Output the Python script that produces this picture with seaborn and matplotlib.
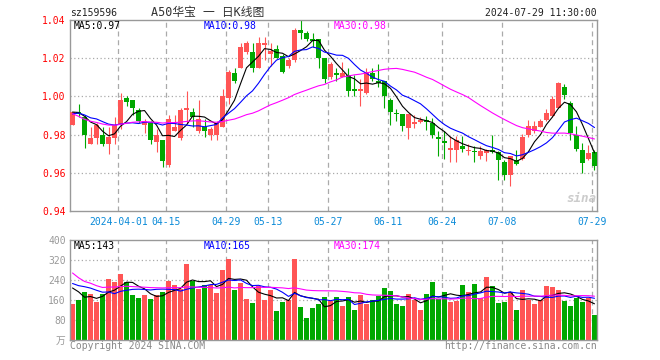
import numpy as np
import pandas as pd
import matplotlib
matplotlib.use("Agg")
import matplotlib.pyplot as plt
import seaborn as sns

# daily OHLC (2024-03-20 .. 2024-07-29, 88 sessions)
opens = [0.985, 0.992, 0.989, 0.975, 0.978, 0.980, 0.975, 0.978, 0.985, 0.999,
         0.998, 0.993, 0.985, 0.986, 0.976, 0.977, 0.964, 0.982, 0.978, 0.993,
         0.992, 0.982, 0.984, 0.980, 0.980, 0.984, 0.999, 1.012, 1.015, 1.023,
         1.023, 1.015, 1.027, 1.022, 1.025, 1.021, 1.016, 1.019, 1.035, 1.033,
         1.030, 1.030, 1.020, 1.010, 1.012, 1.010, 1.011, 1.004, 1.003, 1.002,
         1.012, 1.008, 1.008, 0.998, 0.9912, 0.991, 0.9833, 0.9856, 0.9866, 0.9872,
         0.9862, 0.979, 0.9765, 0.9721, 0.9721, 0.9742, 0.9714, 0.9714, 0.9689, 0.9704,
         0.9721, 0.9707, 0.9659, 0.9589, 0.9668, 0.9672, 0.9797, 0.9818, 0.9842, 0.9875,
         0.9896, 0.994, 1.0051, 0.9967, 0.980, 0.9721, 0.9672, 0.971]
highs = [0.992, 0.996, 0.990, 0.984, 0.986, 0.984, 0.984, 0.989, 1.002, 1.000,
         0.998, 0.994, 0.988, 0.987, 0.983, 0.977, 0.990, 0.990, 0.994, 1.003,
         0.994, 0.998, 0.988, 0.984, 0.987, 1.004, 1.014, 1.015, 1.028, 1.029,
         1.028, 1.031, 1.031, 1.028, 1.027, 1.022, 1.020, 1.036, 1.040, 1.034,
         1.033, 1.030, 1.020, 1.018, 1.015, 1.018, 1.015, 1.011, 1.009, 1.015,
         1.015, 1.017, 1.008, 0.999, 0.9932, 0.991, 0.991, 0.9905, 0.989, 0.9896,
         0.9888, 0.9817, 0.9817, 0.9791, 0.9793, 0.9795, 0.9753, 0.9738, 0.9738, 0.9725,
         0.980, 0.9712, 0.9668, 0.9689, 0.9721, 0.9805, 0.9879, 0.987, 0.988, 0.9932,
         1.0002, 1.0075, 1.0063, 0.9975, 0.9844, 0.9758, 0.9747, 0.9721]
lows = [0.985, 0.989, 0.973, 0.975, 0.975, 0.974, 0.970, 0.975, 0.983, 0.995,
        0.990, 0.986, 0.981, 0.975, 0.971, 0.963, 0.963, 0.982, 0.977, 0.986,
        0.984, 0.981, 0.979, 0.977, 0.977, 0.984, 0.996, 1.007, 1.015, 1.022,
        1.013, 1.015, 1.019, 1.016, 1.020, 1.012, 1.015, 1.018, 1.030, 1.029,
        1.026, 1.015, 1.007, 1.009, 1.008, 1.010, 1.000, 1.000, 0.995, 1.001,
        1.008, 1.005, 0.994, 0.985, 0.987, 0.9817, 0.9775, 0.9832, 0.9863, 0.9826,
        0.9783, 0.9686, 0.9674, 0.9654, 0.9654, 0.9711, 0.9695, 0.9655, 0.9674, 0.9663,
        0.9704, 0.9563, 0.9563, 0.9532, 0.9642, 0.9668, 0.979, 0.981, 0.984, 0.987,
        0.989, 0.994, 0.9985, 0.9774, 0.9715, 0.9598, 0.9668, 0.9616]
closes = [0.992, 0.991, 0.980, 0.978, 0.985, 0.975, 0.979, 0.985, 0.998, 0.997,
          0.994, 0.987, 0.987, 0.977, 0.980, 0.966, 0.988, 0.984, 0.993, 0.994,
          0.989, 0.988, 0.982, 0.983, 0.986, 1.000, 1.013, 1.008, 1.026, 1.028,
          1.015, 1.028, 1.028, 1.024, 1.020, 1.013, 1.019, 1.035, 1.033, 1.030,
          1.029, 1.020, 1.009, 1.017, 1.011, 1.012, 1.003, 1.003, 1.004, 1.013,
          1.009, 1.007, 1.000, 0.992, 0.9908, 0.9844, 0.9908, 0.9866, 0.9876, 0.9868,
          0.980, 0.9777, 0.9756, 0.973, 0.9774, 0.9724, 0.9719, 0.9710, 0.9712, 0.9717,
          0.9710, 0.9668, 0.9589, 0.9686, 0.9647, 0.9788, 0.9844, 0.9847, 0.9873, 0.9914,
          0.9984, 1.0072, 1.0005, 0.9809, 0.9725, 0.9651, 0.9704, 0.9633]
# volume in 万
volumes = [144, 160, 192, 184, 153, 184, 244, 232, 264, 232,
           180, 168, 180, 164, 180, 192, 236, 220, 204, 304,
           236, 204, 220, 220, 188, 280, 324, 200, 228, 164,
           148, 216, 160, 200, 116, 152, 160, 324, 132, 88,
           128, 144, 172, 156, 172, 136, 172, 120, 180, 144,
           160, 176, 208, 196, 144, 136, 184, 160, 120, 184,
           232, 164, 192, 152, 156, 220, 192, 224, 168, 252,
           216, 148, 152, 192, 120, 200, 160, 144, 160, 216,
           212, 200, 156, 136, 168, 152, 168, 100]
# sessions before the window, only feeding the moving averages
pre_close = [1.030, 1.028, 1.008, 1.004, 1.000, 0.995, 0.988, 0.984, 0.980, 0.978,
             0.981, 0.983, 0.985, 0.982, 0.979, 0.980, 0.984, 0.986, 0.983, 0.981,
             0.986, 0.990, 0.993, 0.991, 0.989, 0.992, 0.990, 0.993, 0.992]
pre_vol = [730, 640, 395, 450, 395, 205, 215, 210, 200, 220,
           205, 215, 210, 200, 210, 215, 205, 212, 210, 240,
           245, 235, 240, 240, 260, 236, 300, 170, 190]

tick_idx = [8, 16, 26, 33, 43, 53, 62, 72, 87]
tick_labels = ["2024-04-01", "04-15", "04-29", "05-13", "05-27",
               "06-11", "06-24", "07-08", "07-29"]
price_ticks = [0.94, 0.96, 0.98, 1.00, 1.02, 1.04]
vol_ticks = [0, 80, 160, 240, 320, 400]
price_ma_text = ["MA5:0.97", "MA10:0.98", "MA30:0.98"]
vol_ma_text = ["MA5:143", "MA10:165", "MA30:174"]

RED, GREEN = "#ff5555", "#00a800"
GRID = "#aaaaaa"
MA_COLORS = ["black", "blue", "#ff00ff"]

sns.set_style("white")
plt.rcParams["font.family"] = ["DejaVu Sans Mono", "Noto Sans CJK SC"]

n = len(closes)
df = pd.DataFrame({"open": opens, "high": highs, "low": lows,
                   "close": closes, "vol": volumes})
df["idx"] = np.arange(n)
df["up"] = df["close"] >= df["open"]
colors = np.where(df["up"], RED, GREEN)

npre = len(pre_close)
full_c = pd.Series(pre_close + closes)
full_v = pd.Series(pre_vol + volumes)
for w in (5, 10, 30):
    df[f"ma{w}"] = full_c.rolling(w).mean().iloc[npre:].values
    df[f"vma{w}"] = full_v.rolling(w).mean().iloc[npre:].values

W, H = 660, 360
fig = plt.figure(figsize=(6.6, 3.6), dpi=100)
ax1 = fig.add_axes([70 / W, 149 / H, 527 / W, 191 / H])
ax2 = fig.add_axes([70 / W, 20 / H, 527 / W, 100 / H])
xlim = (-0.42, 87.42)
grid_x = [i - 0.35 for i in tick_idx]

# price panel
for y in price_ticks[1:-1]:
    ax1.axhline(y, color=GRID, lw=0.9, ls=(0, (1, 2)), zorder=0)
for gx in grid_x:
    ax1.axvline(gx, color=GRID, lw=0.9, ls=(0, (4, 3)), zorder=0)
ax1.vlines(df["idx"], df["low"], df["high"], colors=colors, lw=0.8, zorder=2)
body = (df["close"] - df["open"]).abs().clip(lower=0.0006)
ax1.bar(df["idx"], body, bottom=df[["open", "close"]].min(axis=1),
        width=0.8, color=colors, lw=0, zorder=3)
for w, c in zip((5, 10, 30), MA_COLORS):
    sns.lineplot(x=df["idx"], y=df[f"ma{w}"], ax=ax1, color=c, lw=0.8, zorder=4)
ax1.set_xlim(*xlim)
ax1.set_ylim(0.94, 1.04)
ax1.set_yticks(price_ticks)
ax1.set_yticklabels([f"{v:.2f}" for v in price_ticks])
ax1.set_xticks(grid_x)
ax1.set_xticklabels(tick_labels)
ax1.tick_params(axis="y", length=0, pad=3, labelsize=7, labelcolor="#ff0000")
ax1.tick_params(axis="x", length=0, pad=4, labelsize=7, labelcolor="#0a8ad8")
ax1.set_xlabel("")
ax1.set_ylabel("")

# volume panel
for y in vol_ticks[1:-1]:
    ax2.axhline(y, color=GRID, lw=0.9, ls=(0, (1, 2)), zorder=0)
for gx in grid_x:
    ax2.axvline(gx, color=GRID, lw=0.9, ls=(0, (4, 3)), zorder=0)
ax2.bar(df["idx"], df["vol"], width=0.82, color=colors, lw=0, zorder=2)
for w, c in zip((5, 10, 30), MA_COLORS):
    sns.lineplot(x=df["idx"], y=df[f"vma{w}"], ax=ax2, color=c, lw=0.8, zorder=4)
ax2.set_xlim(*xlim)
ax2.set_ylim(0, 400)
ax2.set_yticks(vol_ticks)
ax2.set_yticklabels(["万"] + [str(v) for v in vol_ticks[1:]])
ax2.set_xticks([])
ax2.tick_params(axis="y", length=0, pad=3, labelsize=7, labelcolor="#999999")
ax2.set_xlabel("")
ax2.set_ylabel("")

for ax in (ax1, ax2):
    for s in ax.spines.values():
        s.set_color("#999999")
        s.set_linewidth(1)
        s.set_visible(True)


def ftext(x, y, s, **kw):
    fig.text(x / W, 1 - y / H, s, va="center", **kw)


ftext(70, 12.5, "sz159596", fontsize=7, color="#222222")
ftext(151, 12.5, "A50华宝 一 日K线图", fontsize=8.5, color="#333333")
ftext(597, 12.5, "2024-07-29 11:30:00", fontsize=7, color="#222222", ha="right")
for x, s, c in zip((74, 204, 334), price_ma_text, MA_COLORS):
    ftext(x, 26, s, fontsize=7, color=c)
for x, s, c in zip((74, 204, 334), vol_ma_text, MA_COLORS):
    ftext(x, 246, s, fontsize=7, color=c)
ftext(70, 346, "Copyright 2024 SINA.COM", fontsize=7, color="#888888")
ftext(597, 346, "http://finance.sina.com.cn", fontsize=7, color="#888888", ha="right")
ftext(566, 198, "sina", fontsize=9, color="#cccccc", style="italic", weight="bold")

fig.savefig("out.png", dpi=100, facecolor="white")
